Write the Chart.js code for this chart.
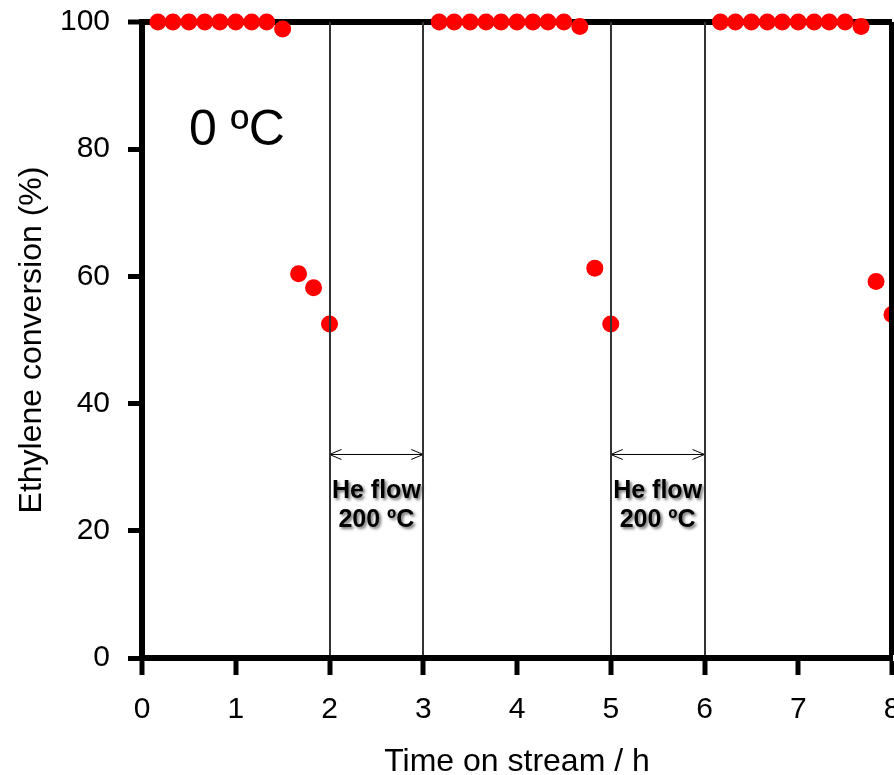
<!DOCTYPE html>
<html>
<head>
<meta charset="utf-8">
<script src="https://cdn.jsdelivr.net/npm/chart.js@4.4.1/dist/chart.umd.min.js"></script>
<style>
  html, body { margin: 0; padding: 0; background: #fff; overflow: hidden; }
  #wrap { width: 894px; height: 775px; overflow: hidden; }
</style>
</head>
<body>
<div id="wrap"><canvas id="conversionChart" width="920" height="775"></canvas></div>
<script>
  // time on stream (h) and ethylene conversion (%), three adsorption runs
  const timeOnStream = [
    0.17, 0.33, 0.5, 0.67, 0.83, 1.0, 1.17, 1.33, 1.5, 1.67, 1.83, 2.0,
    3.17, 3.33, 3.5, 3.67, 3.83, 4.0, 4.17, 4.33, 4.5, 4.67, 4.83, 5.0,
    6.17, 6.33, 6.5, 6.67, 6.83, 7.0, 7.17, 7.33, 7.5, 7.67, 7.83, 8.0
  ];
  const conversion = [
    100, 100, 100, 100, 100, 100, 100, 100, 98.9, 60.4, 58.2, 52.5,
    100, 100, 100, 100, 100, 100, 100, 100, 100, 99.3, 61.3, 52.5,
    100, 100, 100, 100, 100, 100, 100, 100, 100, 99.3, 59.2, 54.0
  ];

  // regeneration periods under He flow (h)
  const heFlowSpans = [[2, 3], [5, 6]];
  const heFlowArrowLevel = 32;
  const heFlowText = ['He flow', '200 ºC'];
  const heFlowTextLevels = [26.3, 21.7];
  const markedTimes = [2, 3, 5, 6];

  const tempText = '0 ºC';
  const tempTextAt = { x: 0.5, y: 80.6 };

  Chart.defaults.font.family = '"Liberation Sans", Arial, sans-serif';
  Chart.defaults.color = '#000';

  const points = timeOnStream.map((t, i) => ({ x: t, y: conversion[i] }));

  const annotations = {
    id: 'annotations',
    afterDatasetsDraw(chart) {
      const ctx = chart.ctx;
      const xs = chart.scales.x;
      const ys = chart.scales.y;
      ctx.save();
      // double arrows
      ctx.strokeStyle = '#000';
      ctx.lineWidth = 1;
      heFlowSpans.forEach(([a, b]) => {
        const x1 = xs.getPixelForValue(a);
        const x2 = xs.getPixelForValue(b);
        const y = ys.getPixelForValue(heFlowArrowLevel);
        ctx.beginPath();
        ctx.moveTo(x1, y);
        ctx.lineTo(x2, y);
        ctx.moveTo(x1 + 12, y - 5);
        ctx.lineTo(x1, y);
        ctx.lineTo(x1 + 12, y + 5);
        ctx.moveTo(x2 - 12, y - 5);
        ctx.lineTo(x2, y);
        ctx.lineTo(x2 - 12, y + 5);
        ctx.stroke();
      });
      // He flow labels with shadow
      ctx.font = 'bold 25px "Liberation Sans", Arial, sans-serif';
      ctx.textAlign = 'center';
      ctx.textBaseline = 'middle';
      ctx.fillStyle = '#000';
      ctx.shadowColor = 'rgba(0,0,0,0.55)';
      ctx.shadowBlur = 3;
      ctx.shadowOffsetX = 2;
      ctx.shadowOffsetY = 2;
      heFlowSpans.forEach(([a, b]) => {
        const x = xs.getPixelForValue((a + b) / 2);
        heFlowText.forEach((line, i) => {
          ctx.fillText(line, x, ys.getPixelForValue(heFlowTextLevels[i]));
        });
      });
      ctx.restore();

      ctx.save();
      ctx.font = '50px "Liberation Sans", Arial, sans-serif';
      ctx.textAlign = 'left';
      ctx.textBaseline = 'alphabetic';
      ctx.fillStyle = '#000';
      ctx.fillText(tempText, xs.getPixelForValue(tempTextAt.x), ys.getPixelForValue(tempTextAt.y));
      ctx.restore();
    }
  };

  const config = {
    type: 'scatter',
    data: {
      datasets: [
        {
          data: points,
          pointRadius: 8.5,
          pointHoverRadius: 8.5,
          pointBackgroundColor: '#ff0000',
          pointBorderColor: '#ff0000',
          pointBorderWidth: 0,
          showLine: false,
          clip: false,
        },
      ],
    },
    options: {
      responsive: false,
      animation: false,
      devicePixelRatio: 1,
      layout: { padding: { left: 0, top: 22, right: 28, bottom: 0 } },
      plugins: {
        legend: { display: false },
        tooltip: { enabled: false },
      },
      scales: {
        x: {
          type: 'linear',
          min: 0,
          max: 8,
          ticks: { stepSize: 1, padding: 17, font: { size: 30 }, color: '#000' },
          grid: {
            z: 1,
            drawTicks: true,
            tickLength: 17,
            tickWidth: 5,
            tickColor: '#000',
            color: (c) => {
              const v = c.tick ? c.tick.value : null;
              if (v === 8) return '#000';
              return markedTimes.includes(v) ? '#333' : 'rgba(0,0,0,0)';
            },
            lineWidth: (c) => (c.tick && c.tick.value === 8 ? 6 : 2),
          },
          border: { display: true, color: '#000', width: 6, z: 1 },
          title: {
            display: true,
            text: 'Time on stream / h',
            font: { size: 32, lineHeight: 1 },
            padding: { top: 0, bottom: -3 },
            color: '#000',
          },
          afterFit: (scale) => {
            scale.height = 117;
          },
        },
        y: {
          min: 0,
          max: 100,
          ticks: { stepSize: 20, padding: 18, font: { size: 30 }, color: '#000' },
          grid: {
            drawTicks: true,
            tickLength: 14,
            tickWidth: 5,
            tickColor: '#000',
            color: (c) => (c.tick && c.tick.value === 100 ? '#000' : 'rgba(0,0,0,0)'),
            lineWidth: (c) => (c.tick && c.tick.value === 100 ? 6 : 1),
          },
          border: { display: true, color: '#000', width: 6 },
          title: {
            display: true,
            text: 'Ethylene conversion (%)',
            font: { size: 32, lineHeight: 1 },
            padding: { top: 16, bottom: 0 },
            color: '#000',
          },
          afterFit: (scale) => {
            scale.width = 142;
            scale.paddingTop = 0;
            scale.paddingBottom = 0;
          },
        },
      },
    },
    plugins: [annotations],
  };

  const conversionChart = new Chart(document.getElementById('conversionChart'), config);
</script>
</body>
</html>
